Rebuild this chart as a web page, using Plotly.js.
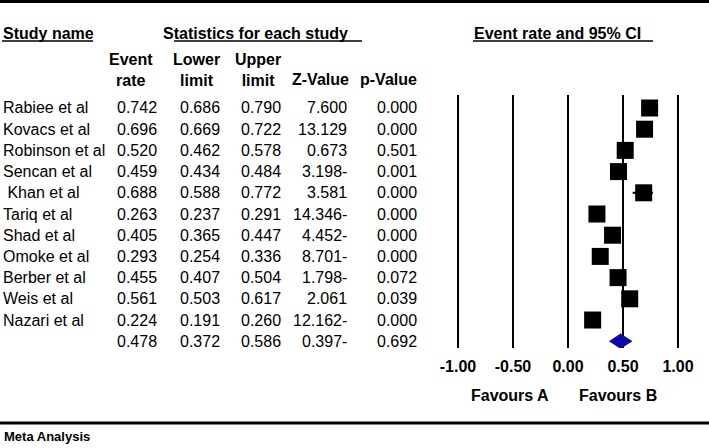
<!DOCTYPE html>
<html>
<head>
<meta charset="utf-8">
<script src="https://cdn.plot.ly/plotly-3.0.1.min.js"></script>
<style>
  body { margin: 0; background: #fff; }
  #chart { width: 709px; height: 448px; }
</style>
</head>
<body>
<div id="chart"></div>
<script>
// DATA
let studies = ["Rabiee et al", "Kovacs et al", "Robinson et al", "Sencan et al", "\u00a0Khan et al", "Tariq et al",
  "Shad et al", "Omoke et al", "Berber et al", "Weis et al", "Nazari et al"];
let eventRate = [0.742, 0.696, 0.520, 0.459, 0.688, 0.263, 0.405, 0.293, 0.455, 0.561, 0.224];
let lowerLimit = [0.686, 0.669, 0.462, 0.434, 0.588, 0.237, 0.365, 0.254, 0.407, 0.503, 0.191];
let upperLimit = [0.790, 0.722, 0.578, 0.484, 0.772, 0.291, 0.447, 0.336, 0.504, 0.617, 0.260];
let zValue = ["7.600", "13.129", "0.673", "3.198-", "3.581", "14.346-", "4.452-", "8.701-", "1.798-", "2.061", "12.162-"];
let pValue = ["0.000", "0.000", "0.501", "0.001", "0.000", "0.000", "0.000", "0.000", "0.072", "0.039", "0.000"];

let pooledRate = 0.478;
let pooledLower = 0.372;
let pooledUpper = 0.586;
let pooledZ = "0.397-";
let pooledP = "0.692";

let tickVals = [-1, -0.5, 0, 0.5, 1];
let colHeads = ["Event<br>rate", "Lower<br>limit", "Upper<br>limit"];
let singleHeads = ["Z-Value", "p-Value"];

// helpers: pixel -> paper
const W = 709, H = 448;
const px = (x) => x / W;
const py = (y) => 1 - y / H;

let font = { family: "Liberation Sans, Arial, sans-serif", size: 16, color: "#000" };
let bold = Object.assign({}, font, { weight: "bold" });

let rows = studies.map((s, i) => i);
let pooledRow = studies.length;

//TRACES
let squares = {
  x: eventRate,
  y: rows,
  type: "scatter",
  mode: "markers",
  marker: { symbol: "square", size: 17, color: "#000" },
  error_x: {
    type: "data",
    symmetric: false,
    array: upperLimit.map((u, i) => u - eventRate[i]),
    arrayminus: lowerLimit.map((l, i) => eventRate[i] - l),
    color: "#000",
    thickness: 2,
    width: 0,
  },
  cliponaxis: false,
  hoverinfo: "skip",
};

let half = 0.36;
let diamond = {
  x: [pooledLower, pooledRate, pooledUpper, pooledRate, pooledLower],
  y: [pooledRow, pooledRow - half, pooledRow, pooledRow + half, pooledRow],
  type: "scatter",
  mode: "lines",
  fill: "toself",
  fillcolor: "#0a0aa8",
  line: { width: 0, color: "#0a0aa8" },
  cliponaxis: false,
  hoverinfo: "skip",
};

//TABLE TEXT
let annotations = [];
function addText(text, x, y, anchor, f, yref) {
  annotations.push({
    text: text,
    x: px(x),
    xref: "paper",
    y: yref === "y" ? y : py(y),
    yref: yref || "paper",
    xanchor: anchor,
    yanchor: "middle",
    showarrow: false,
    font: f || font,
    borderpad: 0,
  });
}

let allNames = studies.concat([""]);
let allRate = eventRate.concat([pooledRate]);
let allLower = lowerLimit.concat([pooledLower]);
let allUpper = upperLimit.concat([pooledUpper]);
let allZ = zValue.concat([pooledZ]);
let allP = pValue.concat([pooledP]);

allNames.forEach((name, i) => {
  if (name) addText(name, 2, i, "left", font, "y");
  addText(allRate[i].toFixed(3), 137, i, "center", font, "y");
  addText(allLower[i].toFixed(3), 200, i, "center", font, "y");
  addText(allUpper[i].toFixed(3), 261, i, "center", font, "y");
  addText(allZ[i], 348, i, "right", font, "y");
  addText(allP[i], 397, i, "center", font, "y");
});

// headers
addText("Study name", 2, 33, "left", bold);
addText("Statistics for each study", 162, 33, "left", bold);
addText("Event rate and 95% CI", 473, 33, "left", bold);
let headX = [131, 196, 258];
colHeads.forEach((t, i) => addText(t, headX[i], 70, "center", bold));
let singleX = [320, 388];
singleHeads.forEach((t, i) => addText(t, singleX[i], 79, "center", bold));

addText("Favours A", 510, 395, "center", bold);
addText("Favours B", 618, 395, "center", bold);
addText("Meta Analysis", 3, 436, "left", Object.assign({}, bold, { size: 13 }));

//SHAPES
let shapes = [
  { type: "rect", xref: "paper", yref: "paper", x0: 0, x1: 1, y0: py(0), y1: py(3), fillcolor: "#000", line: { width: 0 } },
  { type: "line", xref: "paper", yref: "paper", x0: 0, x1: 1, y0: py(423), y1: py(423), line: { color: "#000", width: 3 } },
  { type: "line", xref: "paper", yref: "paper", x0: px(2), x1: px(93), y0: py(41), y1: py(41), line: { color: "#000", width: 1.5 } },
  { type: "line", xref: "paper", yref: "paper", x0: px(174), x1: px(362), y0: py(41), y1: py(41), line: { color: "#000", width: 1.5 } },
  { type: "line", xref: "paper", yref: "paper", x0: px(473), x1: px(653), y0: py(41), y1: py(41), line: { color: "#000", width: 1.5 } },
];

//LAYOUT
let layout = {
  width: W,
  height: H,
  margin: { l: 0, r: 0, t: 0, b: 0, pad: 0 },
  paper_bgcolor: "#fff",
  plot_bgcolor: "#fff",
  showlegend: false,
  font: font,
  xaxis: {
    domain: [px(436), px(700)],
    range: [-1.2, 1.2],
    tickvals: tickVals,
    ticktext: tickVals.map((v) => v.toFixed(2)),
    tickfont: bold,
    ticks: "",
    ticklabelstandoff: 7,
    showgrid: true,
    gridcolor: "#000",
    gridwidth: 2,
    zeroline: false,
    showline: false,
    fixedrange: true,
  },
  yaxis: {
    domain: [py(348), py(95)],
    range: [11.32, -0.613],
    showgrid: false,
    zeroline: false,
    showline: false,
    showticklabels: false,
    ticks: "",
    fixedrange: true,
  },
  annotations: annotations,
  shapes: shapes,
};

Plotly.newPlot("chart", [squares, diamond], layout, { displayModeBar: false, staticPlot: true });
</script>
</body>
</html>
